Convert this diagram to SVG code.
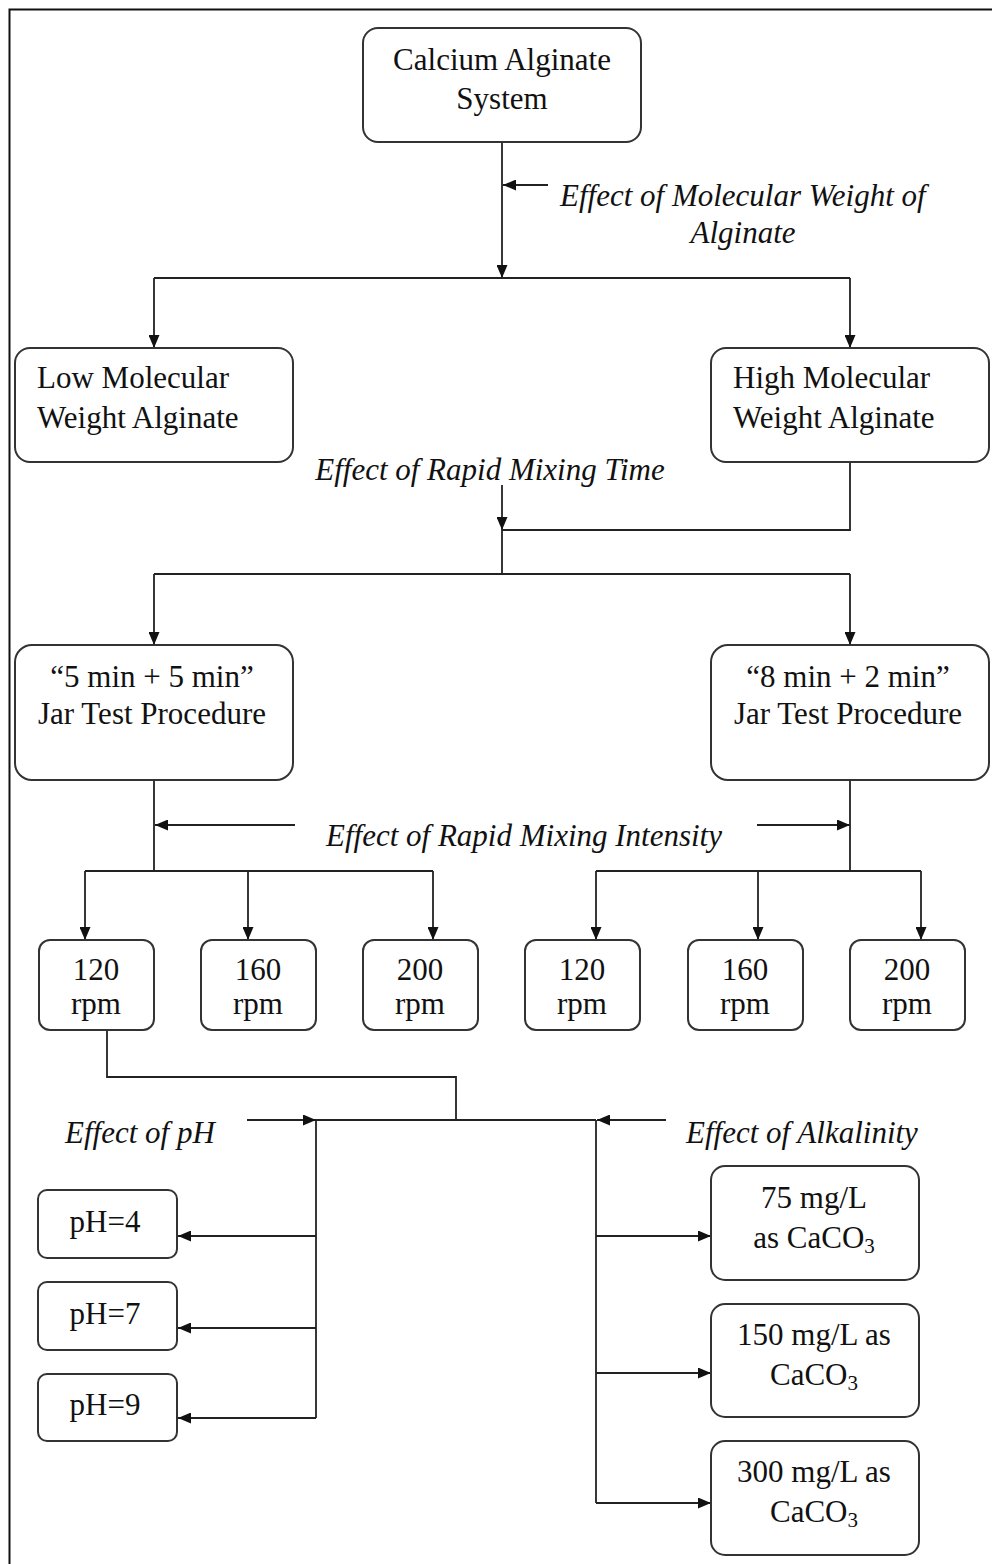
<svg xmlns="http://www.w3.org/2000/svg" width="992" height="1564" viewBox="0 0 992 1564">
<style>
.bx{fill:#fff;stroke:#333;stroke-width:2}
.t{font-family:"Liberation Serif","Times New Roman",serif;font-size:31px;fill:#111}
.c{text-anchor:middle}
.i{font-style:italic}
.ln{fill:none;stroke:#222;stroke-width:1.8}
.ar{fill:none;stroke:#222;stroke-width:1.8;marker-end:url(#ah)}
</style>
<defs>
<marker id="ah" viewBox="0 0 13 11" refX="13" refY="5.5" markerWidth="13" markerHeight="11" markerUnits="userSpaceOnUse" orient="auto">
<path d="M0,0 L13,5.5 L0,11 z" fill="#111"/>
</marker>
</defs>
<rect x="0" y="0" width="992" height="1564" fill="#fff"/>
<rect x="9.5" y="9.5" width="995" height="1570" fill="none" stroke="#111" stroke-width="2"/>

<g id="connectors">
<path class="ar" d="M502,142 V278"/>
<path class="ar" d="M548,185 H503"/>
<path class="ln" d="M154,278 H850"/>
<path class="ar" d="M154,278 V348"/>
<path class="ar" d="M850,278 V348"/>
<path class="ar" d="M502,485 V530"/>
<path class="ln" d="M850,462 V530 H502 V574"/>
<path class="ln" d="M154,574 H850"/>
<path class="ar" d="M154,574 V645"/>
<path class="ar" d="M850,574 V645"/>
<path class="ln" d="M154,780 V871"/>
<path class="ln" d="M85,871 H433"/>
<path class="ar" d="M85,871 V940"/>
<path class="ar" d="M248,871 V940"/>
<path class="ar" d="M433,871 V940"/>
<path class="ar" d="M295,825 H155"/>
<path class="ar" d="M757,825 H850"/>
<path class="ln" d="M850,780 V871"/>
<path class="ln" d="M596,871 H921"/>
<path class="ar" d="M596,871 V940"/>
<path class="ar" d="M758,871 V940"/>
<path class="ar" d="M921,871 V940"/>
<path class="ln" d="M107,1030 V1077 H456 V1120"/>
<path class="ln" d="M316,1120 H596"/>
<path class="ar" d="M247,1120 H316"/>
<path class="ar" d="M666,1120 H597"/>
<path class="ln" d="M316,1120 V1418"/>
<path class="ar" d="M316,1236 H178"/>
<path class="ar" d="M316,1328 H178"/>
<path class="ar" d="M316,1418 H178"/>
<path class="ln" d="M596,1120 V1503"/>
<path class="ar" d="M596,1236 H711"/>
<path class="ar" d="M596,1373 H711"/>
<path class="ar" d="M596,1503 H711"/>
</g>

<g id="labels">
<text class="t i" x="560" y="206">Effect of Molecular Weight of</text>
<text class="t i c" x="743" y="243">Alginate</text>
<text class="t i c" x="490" y="480">Effect of Rapid Mixing Time</text>
<text class="t i c" x="524" y="846">Effect of Rapid Mixing Intensity</text>
<text class="t i" x="65" y="1143">Effect of pH</text>
<text class="t i" x="686" y="1143">Effect of Alkalinity</text>
</g>

<g id="n-calcium">
<rect class="bx" x="363" y="28" width="278" height="114" rx="15"/>
<text class="t c" x="502" y="70">Calcium Alginate</text>
<text class="t c" x="502" y="109">System</text>
</g>
<g id="n-low">
<rect class="bx" x="15" y="348" width="278" height="114" rx="15"/>
<text class="t" x="37" y="388">Low Molecular</text>
<text class="t" x="37" y="428">Weight Alginate</text>
</g>
<g id="n-high">
<rect class="bx" x="711" y="348" width="278" height="114" rx="15"/>
<text class="t" x="733" y="388">High Molecular</text>
<text class="t" x="733" y="428">Weight Alginate</text>
</g>
<g id="n-55">
<rect class="bx" x="15" y="645" width="278" height="135" rx="17"/>
<text class="t c" x="152" y="687">“5 min + 5 min”</text>
<text class="t c" x="152" y="724">Jar Test Procedure</text>
</g>
<g id="n-82">
<rect class="bx" x="711" y="645" width="278" height="135" rx="17"/>
<text class="t c" x="848" y="687">“8 min + 2 min”</text>
<text class="t c" x="848" y="724">Jar Test Procedure</text>
</g>
<g id="n-a120">
<rect class="bx" x="39" y="940" width="115" height="90" rx="11"/>
<text class="t c" x="96" y="980">120</text>
<text class="t c" x="96" y="1014">rpm</text>
</g>
<g id="n-a160">
<rect class="bx" x="201" y="940" width="115" height="90" rx="11"/>
<text class="t c" x="258" y="980">160</text>
<text class="t c" x="258" y="1014">rpm</text>
</g>
<g id="n-a200">
<rect class="bx" x="363" y="940" width="115" height="90" rx="11"/>
<text class="t c" x="420" y="980">200</text>
<text class="t c" x="420" y="1014">rpm</text>
</g>
<g id="n-b120">
<rect class="bx" x="525" y="940" width="115" height="90" rx="11"/>
<text class="t c" x="582" y="980">120</text>
<text class="t c" x="582" y="1014">rpm</text>
</g>
<g id="n-b160">
<rect class="bx" x="688" y="940" width="115" height="90" rx="11"/>
<text class="t c" x="745" y="980">160</text>
<text class="t c" x="745" y="1014">rpm</text>
</g>
<g id="n-b200">
<rect class="bx" x="850" y="940" width="115" height="90" rx="11"/>
<text class="t c" x="907" y="980">200</text>
<text class="t c" x="907" y="1014">rpm</text>
</g>
<g id="n-ph4">
<rect class="bx" x="38" y="1190" width="139" height="68" rx="9"/>
<text class="t c" x="105" y="1232">pH=4</text>
</g>
<g id="n-ph7">
<rect class="bx" x="38" y="1282" width="139" height="68" rx="9"/>
<text class="t c" x="105" y="1324">pH=7</text>
</g>
<g id="n-ph9">
<rect class="bx" x="38" y="1374" width="139" height="67" rx="9"/>
<text class="t c" x="105" y="1415">pH=9</text>
</g>
<g id="n-alk75">
<rect class="bx" x="711" y="1166" width="208" height="114" rx="14"/>
<text class="t c" x="814" y="1208">75 mg/L</text>
<text class="t c" x="814" y="1248">as CaCO<tspan font-size="21" dy="5">3</tspan></text>
</g>
<g id="n-alk150">
<rect class="bx" x="711" y="1304" width="208" height="113" rx="14"/>
<text class="t c" x="814" y="1345">150 mg/L as</text>
<text class="t c" x="814" y="1385">CaCO<tspan font-size="21" dy="5">3</tspan></text>
</g>
<g id="n-alk300">
<rect class="bx" x="711" y="1441" width="208" height="114" rx="14"/>
<text class="t c" x="814" y="1482">300 mg/L as</text>
<text class="t c" x="814" y="1522">CaCO<tspan font-size="21" dy="5">3</tspan></text>
</g>
</svg>
